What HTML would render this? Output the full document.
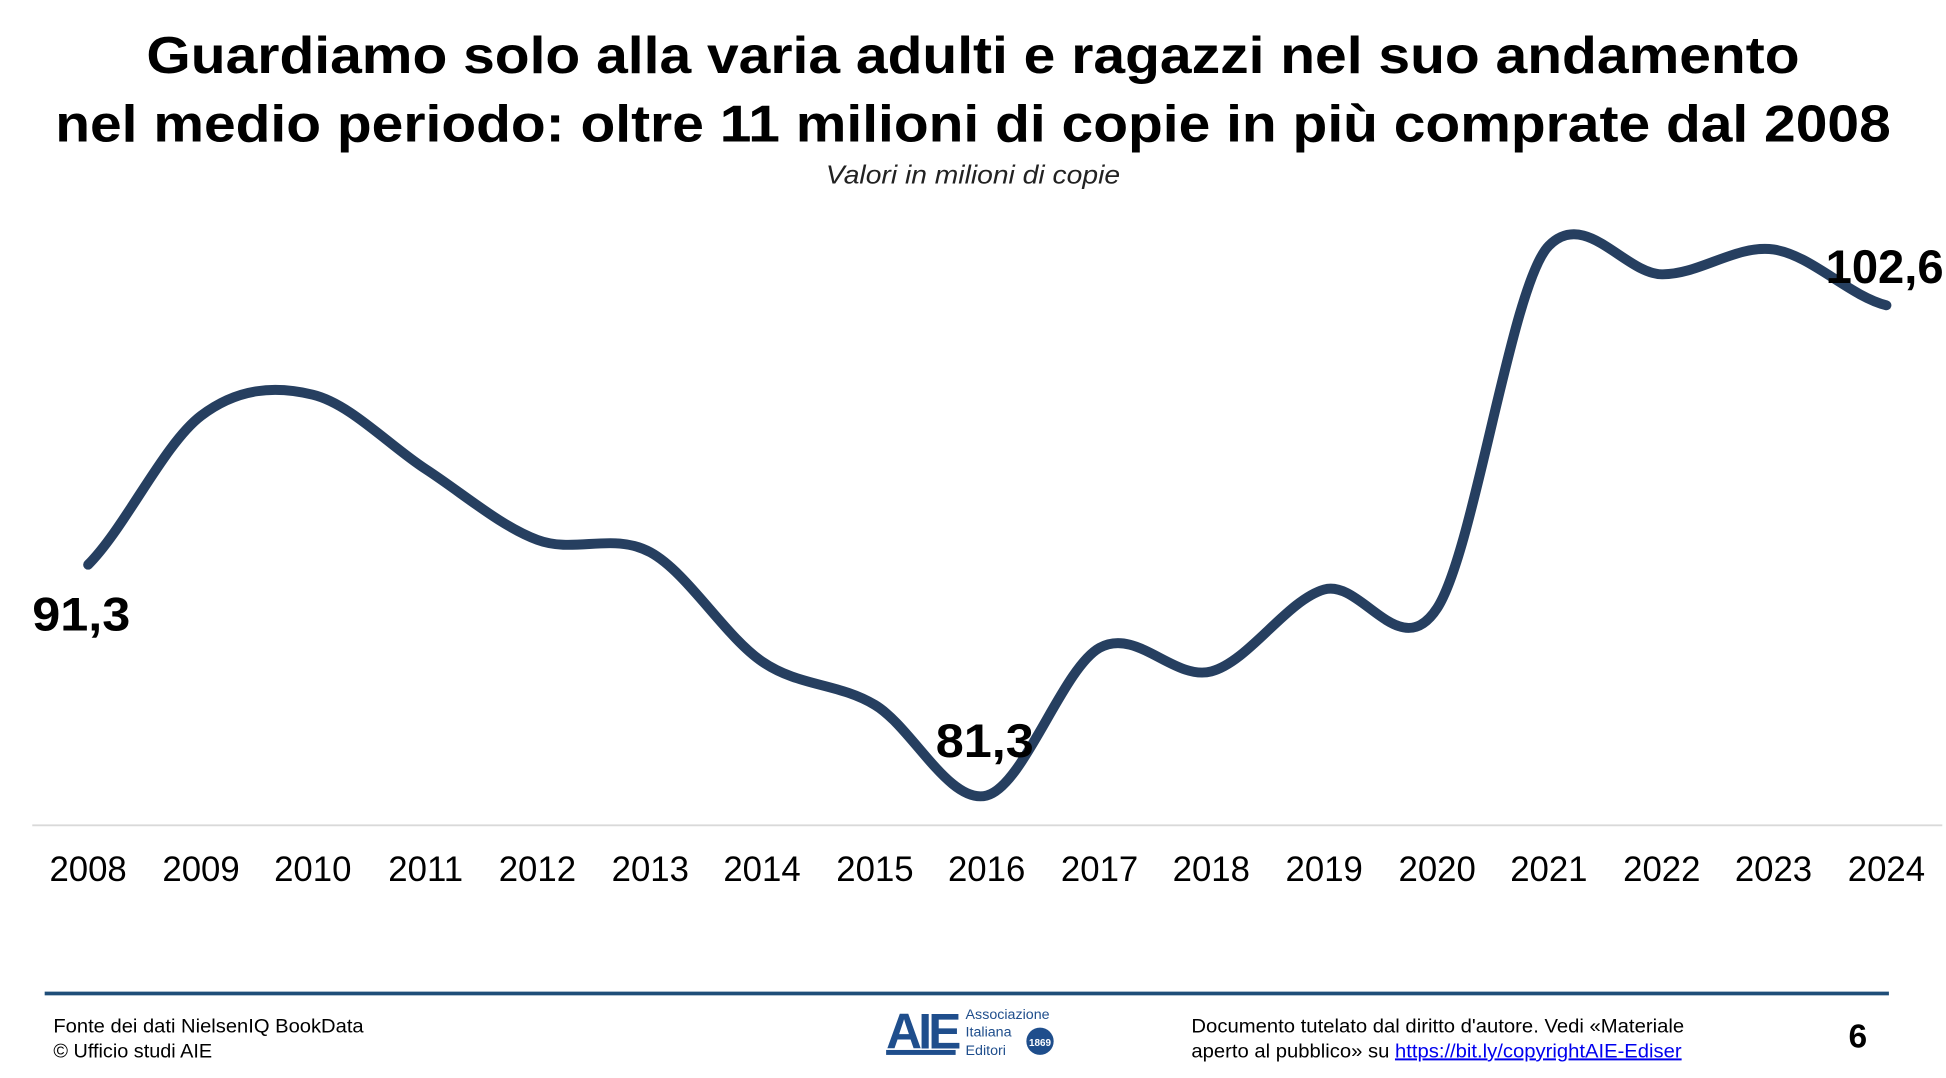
<!DOCTYPE html>
<html><head><meta charset="utf-8"><style>
html,body{margin:0;padding:0;background:#fff;}
svg{display:block;}
</style></head><body>
<svg width="1946" height="1078" viewBox="0 0 1568 868.6" preserveAspectRatio="none" xmlns="http://www.w3.org/2000/svg" font-family="Liberation Sans, Arial, sans-serif">
<text x="784" y="59" text-anchor="middle" font-size="42" font-weight="bold" fill="#000" textLength="1332" lengthAdjust="spacingAndGlyphs">Guardiamo solo alla varia adulti e ragazzi nel suo andamento</text>
<text x="784" y="114" text-anchor="middle" font-size="42" font-weight="bold" fill="#000" textLength="1479" lengthAdjust="spacingAndGlyphs">nel medio periodo: oltre 11 milioni di copie in più comprate dal 2008</text>
<text x="784" y="148" text-anchor="middle" font-size="21" font-style="italic" fill="#222" textLength="237" lengthAdjust="spacingAndGlyphs">Valori in milioni di copie</text>
<line x1="26" y1="665" x2="1565" y2="665" stroke="#d9d9d9" stroke-width="1.5"/>
<path d="M71,455 C101,425 132,357.8 162,335 C192,312.2 222,310.8 252,318 C282,325.2 313,358.5 343,378 C373,397.5 403,423.8 433,435 C463,446.2 494,428.7 524,445 C554,461.3 584,512.5 614,533 C644,553.5 675,550 705,568 C735,586 765,648.7 795,641 C825,633.3 856,538.7 886,522 C916,505.3 946,548.8 976,541 C1006,533.2 1037,483.5 1067,475 C1097,466.5 1128,536.2 1158,490 C1188,443.8 1218,228 1248,198 C1278,168 1309,220.5 1339,221 C1369,221.5 1399,196.8 1429,201 C1459,205.2 1490,238.5 1520,246" fill="none" stroke="#263f60" stroke-width="8" stroke-linecap="round" stroke-linejoin="round"/>
<g font-size="38" font-weight="bold" fill="#000">
<text x="26" y="508" textLength="79" lengthAdjust="spacingAndGlyphs">91,3</text>
<text x="754" y="610" textLength="79" lengthAdjust="spacingAndGlyphs">81,3</text>
<text x="1471" y="228">102,6</text>
</g>
<g font-size="28" fill="#000" text-anchor="middle">
<text x="71" y="710">2008</text><text x="162" y="710">2009</text><text x="252" y="710">2010</text><text x="343" y="710">2011</text><text x="433" y="710">2012</text><text x="524" y="710">2013</text><text x="614" y="710">2014</text><text x="705" y="710">2015</text><text x="795" y="710">2016</text><text x="886" y="710">2017</text><text x="976" y="710">2018</text><text x="1067" y="710">2019</text><text x="1158" y="710">2020</text><text x="1248" y="710">2021</text><text x="1339" y="710">2022</text><text x="1429" y="710">2023</text><text x="1520" y="710">2024</text>
</g>
<rect x="36" y="799" width="1486" height="3" fill="#1f4e79"/>
<g font-size="16" fill="#000">
<text x="43" y="832" textLength="250" lengthAdjust="spacingAndGlyphs">Fonte dei dati NielsenIQ BookData</text>
<text x="43" y="852">© Ufficio studi AIE</text>
<text x="960" y="832" textLength="397" lengthAdjust="spacingAndGlyphs">Documento tutelato dal diritto d'autore. Vedi «Materiale</text>
<text x="960" y="852" textLength="395" lengthAdjust="spacingAndGlyphs">aperto al pubblico» su <tspan fill="#0000ee" text-decoration="underline">https://bit.ly/copyrightAIE-Ediser</tspan></text>
</g>
<text x="1497" y="844" text-anchor="middle" font-size="27" font-weight="bold">6</text>
<text x="714" y="845" font-size="40" font-weight="bold" fill="#1f4e8c" letter-spacing="-3">AIE</text>
<rect x="714" y="846" width="56" height="4" fill="#1f4e8c"/>
<g font-size="11.5" fill="#1f4e8c">
<text x="778" y="821">Associazione</text>
<text x="778" y="835">Italiana</text>
<text x="778" y="850">Editori</text>
</g>
<circle cx="838" cy="839" r="11" fill="#1f4e8c"/>
<text x="838" y="843" text-anchor="middle" font-size="8" fill="#fff" font-weight="bold">1869</text>
</svg>
</body></html>
